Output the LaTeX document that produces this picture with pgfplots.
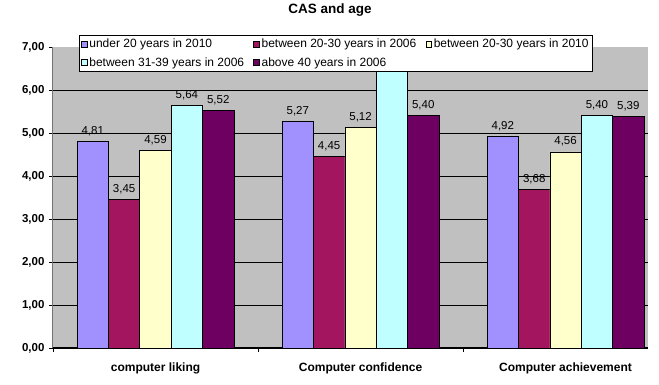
\documentclass[border=0pt]{standalone}
\usepackage{pgfplots}
\pgfplotsset{compat=1.18}
\usepackage{fontspec}
\setmainfont{Liberation Sans}
\definecolor{cA}{HTML}{A191FF}
\definecolor{cB}{HTML}{A3155E}
\definecolor{cC}{HTML}{FFFFCC}
\definecolor{cD}{HTML}{C0FFFF}
\definecolor{cE}{HTML}{6E0062}
\definecolor{bg}{HTML}{C0C0C0}
\begin{document}
\begin{tikzpicture}
\useasboundingbox (-53pt,-37pt) rectangle (606pt,348pt);
\begin{axis}[
  at={(0pt,0pt)}, anchor=south west,
  scale only axis, width=595pt, height=301pt,
  xmin=-0.5, xmax=2.402, ymin=0, ymax=7,
  ybar=0pt, bar width=0.153,
  axis background/.style={fill=bg},
  axis x line*=bottom, axis y line*=left,
  axis line style={-},
  x axis line style={black, line width=1.2pt},
  y axis line style={black!55, line width=1pt},
  tick align=outside, major tick length=4pt,
  tick style={black, line width=0.8pt},
  ytick={0,1,...,7},
  extra y ticks={1,2,...,6}, extra y tick labels={},
  extra y tick style={grid=major, major tick length=0pt},
  grid style={black, line width=0.7pt},
  xtick={-0.5,0.5,1.5}, xticklabels={,,},
  extra x ticks={0,1,2},
  extra x tick labels={computer liking, Computer confidence, Computer achievement},
  extra x tick style={major tick length=0pt, tick label style={font=\bfseries\fontsize{12}{14}\selectfont, yshift=-11pt}},
  yticklabel style={font=\bfseries\fontsize{11.5}{13}\selectfont, xshift=-1pt},
  /pgf/number format/assume math mode=true,
  /pgf/number format/use comma,
  /pgf/number format/fixed,
  /pgf/number format/fixed zerofill,
  /pgf/number format/precision=2,
  nodes near coords,
  nodes near coords style={font=\fontsize{11.5}{13}\selectfont, anchor=base, yshift=7pt, text=black},
  title={\textbf{CAS and age}},
  title style={at={(0.4655,1)}, anchor=base, yshift=27pt, font=\fontsize{13.5}{15}\selectfont},
  legend columns=3,
  legend cell align=left,
  legend style={at={(0.0437,1.04)}, anchor=north west, draw=black, fill=white,
    font=\fontsize{12}{14}\selectfont, inner sep=2pt, row sep=4pt,
    /tikz/every even column/.append style={column sep=0pt}},
  every axis plot/.append style={draw=black, line width=0.7pt,
    legend image code/.code={\draw[#1, line width=0.6pt] (0pt,-2.8pt) rectangle (5.6pt,2.8pt);}},
]
\addplot[fill=cA] coordinates {(0,4.81) (1,5.27) (2,4.92)};
\addlegendentry{\makebox[162pt][l]{under 20 years in 2010}}
\addplot[fill=cB] coordinates {(0,3.45) (1,4.45) (2,3.68)};
\addlegendentry{\makebox[162pt][l]{between 20-30 years in 2006}}
\addplot[fill=cC] coordinates {(0,4.59) (1,5.12) (2,4.56)};
\addlegendentry{between 20-30 years in 2010}
\addplot[fill=cD, point meta=explicit symbolic] coordinates {(0,5.64) [5,64] (1,6.45) [] (2,5.40) [5,40]};
\addlegendentry{\makebox[162pt][l]{between 31-39 years in 2006}}
\addplot[fill=cE] coordinates {(0,5.52) (1,5.40) (2,5.39)};
\addlegendentry{\makebox[162pt][l]{above 40 years in 2006}}
\end{axis}
\end{tikzpicture}
\end{document}
